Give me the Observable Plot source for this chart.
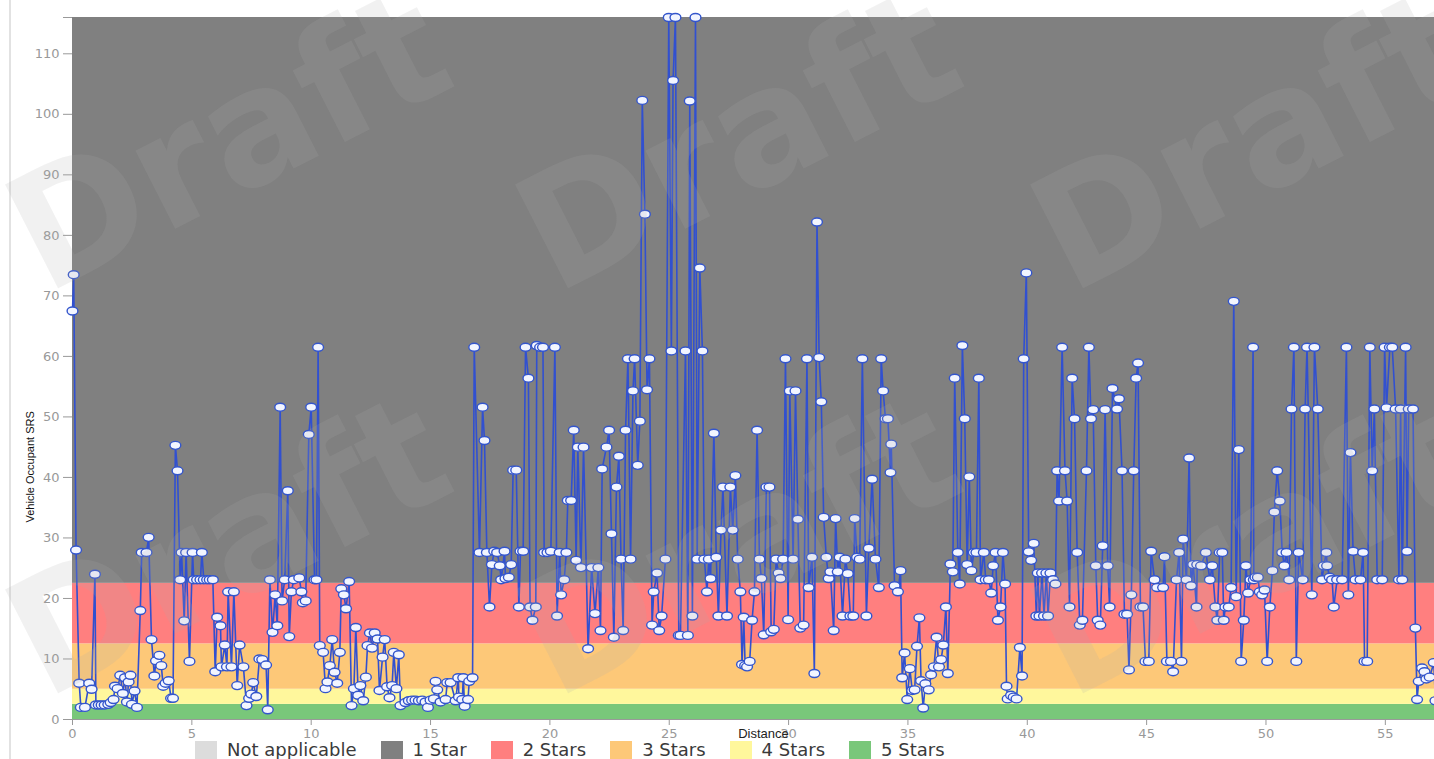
<!DOCTYPE html>
<html><head><meta charset="utf-8">
<script src="https://cdn.jsdelivr.net/npm/d3@7"></script>
<script src="https://cdn.jsdelivr.net/npm/@observablehq/plot@0.6"></script>
<style>
html,body{margin:0;padding:0;background:#fff;width:1434px;height:759px;overflow:hidden;font-family:"DejaVu Sans",sans-serif;}
#wrap{position:relative;width:1434px;height:759px;overflow:hidden;}
#border{position:absolute;left:9px;top:0;width:2px;height:759px;background:#e2e2e2;}
#chart{position:absolute;left:0;top:0;}
#legend{position:absolute;left:195px;top:741px;display:flex;align-items:center;font-size:18px;color:#3a3a3a;white-space:nowrap;line-height:18px;}
.item{display:flex;align-items:center;margin-right:24px;}
.sw{width:22px;height:18px;margin-right:10px;}
#wm{position:absolute;left:0;top:0;width:1434px;height:759px;pointer-events:none;overflow:hidden;}
#wm span{position:absolute;font-family:"DejaVu Sans";font-weight:bold;font-size:160px;line-height:160px;color:rgba(170,170,170,0.17);transform-origin:0 135px;transform:rotate(-27deg);white-space:nowrap;}
</style></head><body>
<div id="wrap"><div id="border"></div><div id="chart"></div><div id="legend"></div><div id="wm"></div></div>
<script>
const distance = [
0.0,0.05,0.15,0.28,0.35,0.52,0.7,0.8,0.94,0.98,1.1,1.22,1.35,1.5,1.6,1.72,1.78,1.89,2.0,2.11,2.2,2.28,2.35,2.43,2.49,2.6,2.7,2.84,2.9,3.1,3.19,3.31,3.43,3.5,3.64,3.72,3.8,3.9,4.03,4.13,4.21,4.31,4.4,4.51,4.57,4.68,4.76,4.9,
5.03,5.08,5.22,5.36,5.42,5.5,5.64,5.75,5.88,5.98,6.06,6.2,6.24,6.38,6.47,6.52,6.66,6.76,6.9,7.0,7.16,7.29,7.4,7.49,7.57,7.7,7.83,7.95,8.11,8.18,8.27,8.38,8.49,8.58,8.7,8.78,8.89,9.02,9.08,9.17,9.27,9.5,9.59,9.65,9.77,9.9,10.0,10.14,10.22,10.29,
10.36,10.5,10.6,10.68,10.78,10.88,10.98,11.09,11.2,11.26,11.37,11.46,11.59,11.69,11.79,11.87,11.97,12.06,12.18,12.29,12.36,12.46,12.55,12.66,12.78,12.86,12.99,13.08,13.18,13.28,13.39,13.46,13.57,13.67,13.74,13.95,14.09,14.23,14.37,14.51,14.65,14.79,14.89,15.0,15.14,15.21,15.28,15.42,15.63,15.7,15.84,16.05,16.16,16.19,16.33,16.37,16.43,16.57,16.62,16.76,16.83,
17.05,17.18,17.26,17.36,17.47,17.57,17.67,17.79,17.9,17.96,18.1,18.14,18.28,18.38,18.46,18.59,18.7,18.77,18.88,18.98,19.1,19.17,19.27,19.41,19.45,19.59,19.71,19.76,19.9,20.04,20.21,20.3,20.41,20.47,20.6,20.69,20.75,20.89,21.0,21.1,21.17,21.3,21.41,21.6,21.75,21.89,22.03,
22.12,22.19,22.37,22.48,22.58,22.68,22.79,22.89,22.98,23.07,23.17,23.27,23.38,23.48,23.55,23.68,23.77,23.87,23.98,24.07,24.17,24.28,24.35,24.49,24.58,24.68,24.84,24.98,25.09,25.16,25.26,25.4,25.47,25.68,25.78,25.86,25.97,26.1,26.17,26.28,26.39,26.47,26.58,26.66,26.73,26.87,26.97,27.06,27.17,27.25,27.42,27.56,27.66,27.77,27.87,27.98,
28.05,28.12,28.18,28.26,28.37,28.47,28.57,28.68,28.78,28.86,28.96,29.07,29.2,29.27,29.38,29.48,29.58,29.66,29.77,29.87,29.98,30.05,30.19,30.29,30.39,30.49,30.63,30.77,30.84,30.98,31.08,31.19,31.28,31.37,31.47,31.58,31.68,31.75,31.89,31.97,32.06,32.14,32.26,32.38,32.48,32.59,32.71,32.77,32.87,32.98,33.09,33.26,33.36,33.5,33.64,33.78,33.88,33.96,
34.06,34.16,34.27,34.3,34.44,34.58,34.69,34.76,34.86,34.97,35.08,35.18,35.28,35.38,35.48,35.55,35.64,35.73,35.87,35.97,36.09,36.2,36.3,36.39,36.48,36.59,36.67,36.78,36.88,36.96,37.09,37.17,37.28,37.38,37.48,37.57,37.66,37.76,37.87,37.97,38.04,38.18,38.26,38.39,38.49,38.57,38.67,38.77,38.88,38.98,39.07,39.13,39.18,39.32,39.43,39.55,39.69,39.78,39.85,39.96,
40.06,40.16,40.27,40.38,40.44,40.51,40.62,40.7,40.8,40.87,40.97,41.08,41.18,41.25,41.33,41.46,41.58,41.67,41.77,41.88,41.98,42.09,42.2,42.31,42.48,42.58,42.67,42.76,42.87,42.95,43.06,43.16,43.26,43.37,43.45,43.57,43.76,43.84,43.97,44.07,44.18,44.26,44.36,44.46,44.56,44.64,44.74,44.85,44.95,
45.09,45.19,45.33,45.44,45.69,45.75,45.85,46.02,46.11,46.25,46.36,46.46,46.53,46.67,46.78,46.86,46.95,47.09,47.12,47.28,47.48,47.65,47.75,47.88,47.96,48.06,48.17,48.23,48.3,48.44,48.54,48.65,48.75,48.86,48.96,49.07,49.16,49.25,49.35,49.46,49.49,49.56,49.66,49.74,49.84,49.94,
50.05,50.16,50.27,50.35,50.47,50.58,50.68,50.77,50.86,50.97,51.07,51.17,51.27,51.37,51.54,51.64,51.72,51.92,52.03,52.17,52.35,52.42,52.53,52.56,52.67,52.77,52.84,52.98,53.19,53.37,53.45,53.54,53.65,53.75,53.96,54.07,54.13,54.24,54.35,54.45,54.54,54.66,54.87,54.97,
55.05,55.19,55.29,55.43,55.57,55.64,55.71,55.85,55.91,55.98,56.16,56.26,56.33,56.4,56.54,56.64,56.72,56.86,57.03,57.1
];
const srs = [
67.5,73.5,28,6,2,2,6,5,24,2.4,2.4,2.4,2.4,2.5,2.8,3.3,5.5,5.1,7.3,4.3,6.9,2.9,6.2,7.3,2.5,4.7,2.0,18,27.6,27.6,30.1,13.2,7.2,9.7,10.6,8.9,5.5,6.0,6.4,3.5,3.5,45.3,41.1,23.1,27.6,16.3,27.6,9.6,
27.6,23.1,23.1,23.1,27.6,23.1,23.1,23.1,23.1,7.9,16.9,15.5,8.7,12.3,8.7,21.1,8.7,21.1,5.6,12.3,8.7,2.3,3.5,4.2,6.1,3.8,10.0,9.9,9.0,1.6,23.1,14.4,20.6,15.5,51.6,19.6,23.1,37.8,13.7,21.1,23.1,23.4,21.1,19.3,19.6,47.1,51.6,23.1,23.1,61.5,
12.2,11.1,5.1,6.2,8.9,13.2,7.8,6.0,11.1,21.6,20.6,18.3,22.8,2.3,5.1,15.2,4.0,5.6,3.1,7.0,12.2,14.3,11.8,14.3,13.3,4.8,10.3,13.2,5.4,3.6,5.6,11.1,5.1,10.7,2.3,2.8,3.1,3.2,3.2,3.1,3.2,2.9,2.0,3.2,3.4,6.3,4.9,2.9,3.3,6.1,6.1,3.1,6.9,3.7,3.3,6.9,2.2,3.3,6.3,6.9,61.5,
27.6,51.6,46.1,27.6,18.6,25.6,27.8,27.6,25.4,23.1,27.8,23.3,23.5,25.6,41.2,41.2,18.6,27.8,27.8,61.5,56.4,18.6,16.4,18.6,61.8,61.5,61.5,27.6,27.6,27.8,61.5,17.1,27.6,20.6,23.1,27.6,36.2,36.2,47.8,26.3,45.0,25.1,45.0,11.7,25.1,17.5,25.1,
14.7,41.4,45.0,47.8,30.7,13.6,38.4,43.5,26.5,14.7,47.8,59.6,26.5,54.3,59.6,42.0,49.3,102.3,83.5,54.5,59.6,15.6,21.1,24.2,14.7,17.1,26.5,116,60.9,105.6,116,13.9,13.9,60.9,13.9,102.2,17.1,116,26.5,74.6,60.9,26.5,21.1,26.5,23.3,47.3,26.8,17.1,31.3,38.4,17.1,38.4,31.3,40.3,26.5,21.1,
9.1,16.9,8.9,8.7,9.6,16.4,21.1,47.8,26.5,23.3,14.0,38.4,38.4,14.5,14.9,26.5,24.2,23.3,26.5,59.6,16.5,54.3,26.5,54.3,33.1,15.1,15.6,59.6,21.8,26.8,7.6,82.2,59.8,52.5,33.4,26.8,23.3,24.4,14.7,33.2,24.4,26.8,17.1,26.5,24.1,17.1,17.1,33.2,26.8,26.5,59.6,17.1,28.3,39.7,26.5,21.8,59.6,54.3,
49.7,49.7,40.8,45.5,22.1,21.1,24.6,6.9,11.0,3.3,8.4,4.8,4.9,12.1,16.8,6.4,1.9,5.9,4.9,7.4,8.7,13.6,8.7,9.9,12.3,18.6,7.6,25.7,24.4,56.4,27.6,22.4,61.8,49.7,25.6,40.1,24.6,27.6,27.6,56.4,23.1,27.6,23.1,23.1,20.9,25.4,27.6,16.4,18.6,27.6,22.4,5.5,3.4,4.0,3.7,3.4,11.9,7.2,59.6,73.8,
27.7,26.3,29.1,17.1,24.2,17.1,24.2,17.1,24.2,17.1,24.2,23.1,22.4,41.1,36.1,61.5,41.1,36.1,18.6,56.4,49.7,27.6,15.6,16.4,41.1,61.5,49.7,51.2,25.4,16.4,15.6,28.7,51.2,25.4,18.6,54.7,51.3,53.0,41.1,17.4,17.4,8.2,20.6,41.1,56.4,58.9,18.6,18.6,9.6,
9.6,27.8,23.1,21.8,21.8,26.9,9.6,9.6,7.9,23.1,27.6,9.6,29.8,23.1,43.2,22.1,25.6,18.6,25.6,25.4,27.6,23.1,25.4,18.6,16.4,27.6,27.6,16.4,18.6,18.6,21.8,69.1,20.3,44.6,9.6,16.4,25.4,20.9,23.1,61.5,23.1,23.5,23.5,21.1,20.6,21.4,
9.6,18.6,24.6,34.3,41.1,36.1,27.6,25.4,27.6,23.1,51.3,61.5,9.6,27.6,23.1,51.3,61.5,20.6,61.5,51.3,23.1,25.4,27.6,25.4,23.5,23.1,18.6,23.1,23.1,61.5,20.6,44.1,27.8,23.1,23.1,27.6,9.6,9.6,61.5,41.1,51.3,23.1,23.1,61.5,
51.5,61.5,61.5,51.3,23.1,51.3,23.1,61.5,27.8,51.3,51.3,15.1,3.3,6.3,8.5,7.9,6.7,7.0,9.4,3.1
];
const bandLabels = ["5 Stars","4 Stars","3 Stars","2 Stars","1 Star"];
const bandFrom = [0, 2.5, 5, 12.5, 22.5];
const bandTo = [2.5, 5, 12.5, 22.5, 116];
const legendLabels = ["Not applicable","1 Star","2 Stars","3 Stars","4 Stars","5 Stars"];
const legendColors = ["#dcdcdc","#808080","#ff7f7f","#fdc878","#fff79c","#79c77a"];
const xTicks = [0,5,10,15,20,25,30,35,40,45,50,55];
const yTicks = [0,10,20,30,40,50,60,70,80,90,100,110];
const xLabel = "Distance";
const yLabel = "Vehicle Occupant SRS";
const watermark = "Draft";

const points = distance.map((d, i) => ({distance: d, srs: srs[i]}));
const bands = bandLabels.map((l, i) => ({label: l, y1: bandFrom[i], y2: bandTo[i]}));
const yMax = d3.max(bandTo);

const ellipse = {
  draw(ctx) {
    const rx = 5.4, ry = 4.0, k = 0.5523;
    ctx.moveTo(rx, 0);
    ctx.bezierCurveTo(rx, ry * k, rx * k, ry, 0, ry);
    ctx.bezierCurveTo(-rx * k, ry, -rx, ry * k, -rx, 0);
    ctx.bezierCurveTo(-rx, -ry * k, -rx * k, -ry, 0, -ry);
    ctx.bezierCurveTo(rx * k, -ry, rx, -ry * k, rx, 0);
    ctx.closePath();
  }
};

const chart = Plot.plot({
  width: 1434, height: 740,
  marginLeft: 72, marginRight: 0, marginTop: 17, marginBottom: 21,
  style: {background: "transparent", fontFamily: "DejaVu Sans", fontSize: "13px", overflow: "visible"},
  x: {domain: [0, 57.06]},
  y: {domain: [0, yMax]},
  color: {domain: legendLabels, range: legendColors},
  marks: [
    Plot.rect(bands, {y1: "y1", y2: "y2", fill: "label"}),
    Plot.ruleY([0], {stroke: "#999"}),
    Plot.axisX(xTicks, {tickSize: 6, tickPadding: 3, color: "#999", label: null, fontSize: 13}),
    Plot.axisY(yTicks, {tickSize: 9, tickPadding: 4, color: "#999", label: null, fontSize: 13}),
    Plot.axisY([yMax], {tickSize: 9, tickFormat: () => "", color: "#999", label: null}),
    Plot.line(points, {x: "distance", y: "srs", stroke: "#3150d0", strokeWidth: 1.6}),
    Plot.dot(points, {x: "distance", y: "srs", symbol: ellipse, fill: "#f2f5ff", stroke: "#3355cc", strokeWidth: 1.4}),
    Plot.text([xLabel], {frameAnchor: "bottom", dx: 10, dy: 14, lineAnchor: "middle", fill: "#222", fontSize: 13, fontFamily: "Liberation Sans"}),
    Plot.text([yLabel], {frameAnchor: "left", rotate: -90, dx: -42, dy: 154, lineAnchor: "middle", fill: "#111", fontSize: 11, fontFamily: "Liberation Sans"})
  ]
});
document.getElementById("chart").appendChild(chart);

const legend = document.getElementById("legend");
legendLabels.forEach((l, i) => {
  const it = document.createElement("div"); it.className = "item";
  const sw = document.createElement("div"); sw.className = "sw"; sw.style.background = legendColors[i];
  const tx = document.createElement("span"); tx.textContent = l;
  it.appendChild(sw); it.appendChild(tx); legend.appendChild(it);
});

const wm = document.getElementById("wm");
[[45,295],[555,295],[1070,295],[45,700],[555,700],[1070,700]].forEach(([x, y]) => {
  const s = document.createElement("span");
  s.textContent = watermark;
  s.style.left = x + "px"; s.style.top = (y - 135) + "px";
  wm.appendChild(s);
});
</script>
</body></html>
